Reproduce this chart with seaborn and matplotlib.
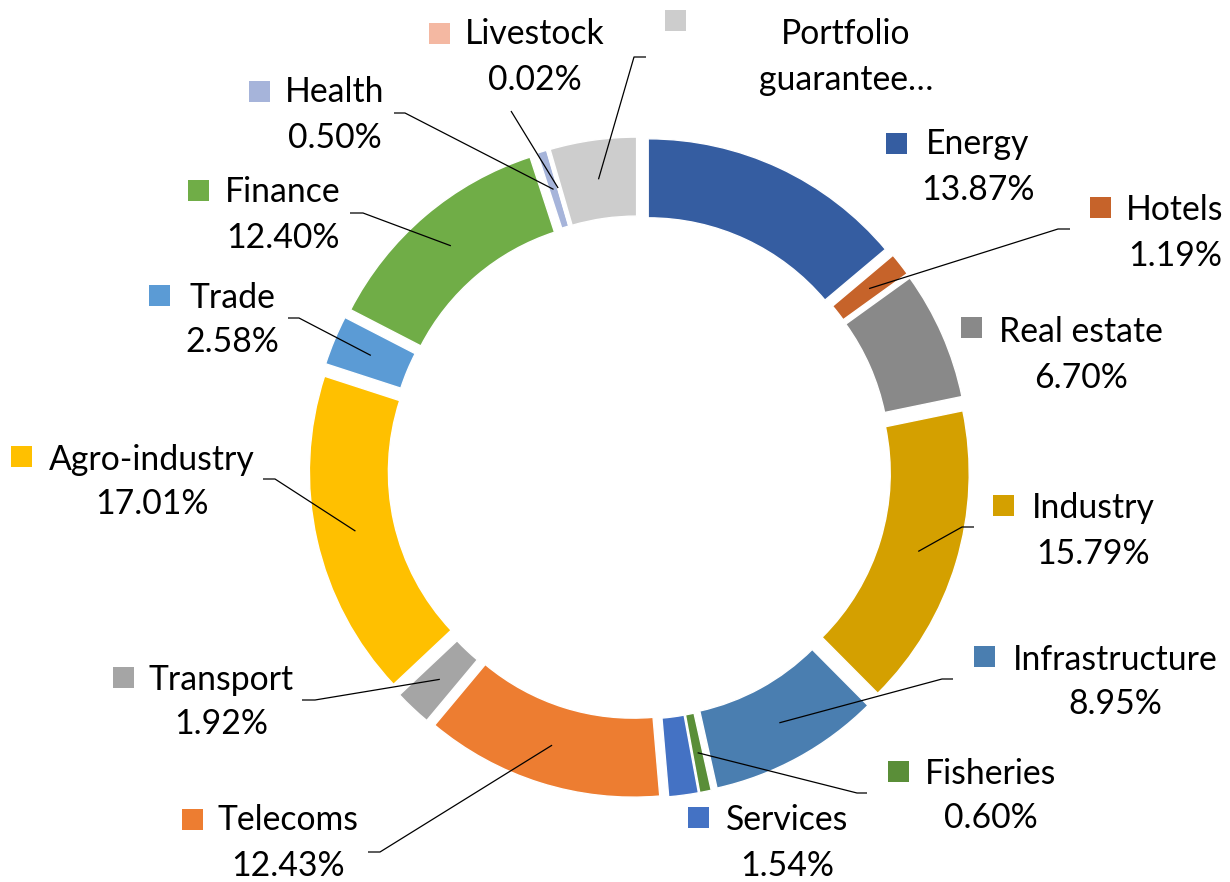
import matplotlib
matplotlib.use("Agg")
import matplotlib.pyplot as plt
import matplotlib.patches as mpatches
import numpy as np
import seaborn as sns

# Data
sectors = ["Energy", "Hotels", "Real estate", "Industry", "Infrastructure",
           "Fisheries", "Services", "Telecoms", "Transport", "Agro-industry",
           "Trade", "Finance", "Health", "Livestock", "Portfolio guarantee"]
shares = [13.87, 1.19, 6.70, 15.79, 8.95, 0.60, 1.54, 12.43, 1.92, 17.01,
          2.58, 12.40, 0.50, 0.02, 4.50]
colors = ["#355DA1", "#C6632A", "#898989", "#D4A000", "#4A7EB0", "#5A8E38",
          "#4472C4", "#ED7D31", "#A5A5A5", "#FFC000", "#5B9BD5", "#70AD47",
          "#A6B4DA", "#F4B8A2", "#CDCDCD"]
# the portfolio label is cut off in the original chart
label_lines = {s: [s, f"{v:.2f}%"] for s, v in zip(sectors, shares)}
label_lines["Portfolio guarantee"] = ["Portfolio", "guarantee\u2026"]

# Label layout in pixels (y down): key centre, text centre x, first line y,
# leader elbow (x, y) and end of horizontal stub
layout = {
    "Energy":              ((896, 143), 978, 143, None),
    "Hotels":              ((1100, 207), 1175, 209, (1058, 229, 1070)),
    "Real estate":         ((971, 327), 1081, 331, None),
    "Industry":            ((1003, 505), 1093, 507, (962, 527, 974)),
    "Infrastructure":      ((984, 656), 1115, 658, (942, 679, 953)),
    "Fisheries":           ((898, 771), 991, 772, (857, 793, 867)),
    "Services":            ((698, 817), 787, 819, None),
    "Telecoms":            ((192, 819), 288, 819, (380, 852, 368)),
    "Transport":           ((123, 677), 221, 678, (315, 700, 302)),
    "Agro-industry":       ((21, 456), 152, 458, (275, 479, 263)),
    "Trade":               ((159, 295), 232, 296, (299, 318, 288)),
    "Finance":             ((198, 190), 283, 191, (363, 213, 350)),
    "Health":              ((259, 91), 335, 91, (405, 113, 394)),
    "Livestock":           ((439, 33), 535, 33, (511, 111, None)),
    "Portfolio guarantee": ((675, 20), 846, 33, (634, 57, 646)),
}

sns.set_theme(style="white")
plt.rcParams["font.family"] = ["Lato", "DejaVu Sans"]

fig = plt.figure(figsize=(12.3, 8.82), dpi=100)
ax = fig.add_axes([0, 0, 1, 1])

# Doughnut, clockwise from 12 o'clock (y axis is flipped below)
wedges, _ = ax.pie(shares, colors=colors, startangle=-90, counterclock=True,
                   radius=310, center=(639.5, 467.5),
                   explode=[20.6] * len(shares),
                   wedgeprops=dict(width=79, edgecolor="white", linewidth=1))

ax.set_xlim(0, 1230)
ax.set_ylim(882, 0)
ax.set_aspect("auto")
ax.axis("off")

line_step = 45
for w, name, col in zip(wedges, sectors, colors):
    (kx, ky), tx, ty, elbow = layout[name]
    lines = label_lines[name]
    ax.add_patch(mpatches.Rectangle((kx - 10.5, ky - 10.5), 21, 21,
                                    facecolor=col, edgecolor="none"))
    for i, txt in enumerate(lines):
        ax.text(tx, ty + i * line_step + 11.5, txt, ha="center", va="baseline",
                fontsize=24.3, color="black")
    if elbow is not None:
        tm = np.deg2rad((w.theta1 + w.theta2) / 2)
        r_mid = w.r - w.width / 2
        ax_ = w.center[0] + r_mid * np.cos(tm)
        ay_ = w.center[1] + r_mid * np.sin(tm)
        ex, ey, sx = elbow
        xs, ys = [ax_, ex], [ay_, ey]
        if sx is not None:
            xs.append(sx)
            ys.append(ey)
        ax.plot(xs, ys, color="black", lw=0.9, solid_capstyle="butt")

fig.savefig("out.png", dpi=100)
